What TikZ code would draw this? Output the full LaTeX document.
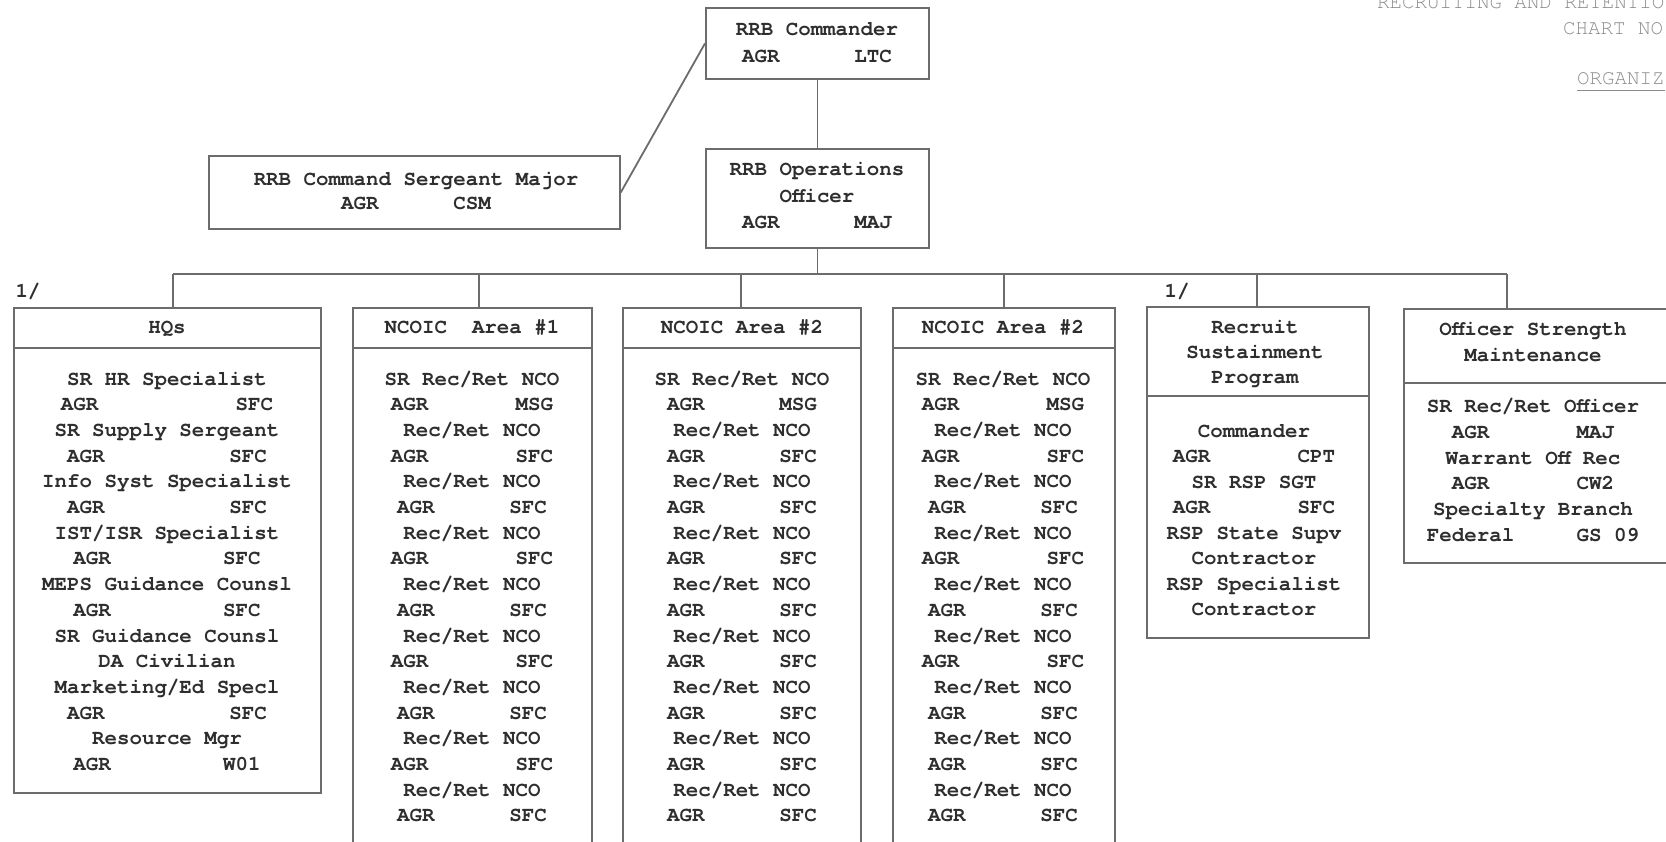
\documentclass[tikz,border=0pt]{standalone}
\usepackage{fontspec}
\setmainfont{texgyrecursor}[Extension=.otf, UprightFont=*-regular, BoldFont=*-bold]
\newcommand\gp[1]{\hspace*{\dimexpr 0.6em*#1\relax}}
\definecolor{ln}{HTML}{6C6C6C}
\definecolor{tx}{HTML}{2E2E2E}
\definecolor{ttl}{HTML}{8C8C8C}
\newcommand\rows[5]{%
  \foreach \rowtext [count=\i] in {#5}{%
    \node[txt] (#1-\i) at (#2, #3+\i*#4-#4) {\rowtext};}}
\newcommand\divider[2]{%
  \path (0,#2) coordinate (#1-dv);
  \draw[lnst] (#1.west |- #1-dv) -- (#1.east |- #1-dv);}
\begin{document}
\begin{tikzpicture}[x=1pt,y=-1pt,
  lnst/.style={draw=ln, line width=1.8pt},
  box/.style={lnst, anchor=north west, inner sep=0pt},
  txt/.style={inner sep=0pt, text height=12pt, text depth=0pt, anchor=center,
    font=\fontsize{20.8}{25}\selectfont\bfseries, text=tx},
  ttltxt/.style={inner sep=0pt, text height=12pt, text depth=0pt, anchor=west,
    font=\fontsize{20.8}{25}\selectfont, text=ttl}]
\useasboundingbox (0,0) rectangle (1666,842);
\clip (0,0) rectangle (1666,842);
\fill[white] (0,0) rectangle (1666,842);

% boxes
\node[box, minimum width=223pt, minimum height=71pt] (cmd) at (705,7) {};
\node[box, minimum width=223pt, minimum height=99pt] (ops) at (705,148) {};
\node[box, minimum width=411pt, minimum height=73pt] (csm) at (208,155) {};
\node[box, minimum width=307pt, minimum height=485pt] (hq) at (13,307) {};
\node[box, minimum width=239pt, minimum height=580pt] (nca) at (352,307) {};
\node[box, minimum width=238pt, minimum height=580pt] (ncb) at (622,307) {};
\node[box, minimum width=222pt, minimum height=580pt] (ncc) at (892,307) {};
\node[box, minimum width=222pt, minimum height=331pt] (rsp) at (1146,306) {};
\node[box, minimum width=290pt, minimum height=254pt] (osm) at (1403,308) {};

% header dividers
\divider{hq}{348}
\divider{nca}{348}
\divider{ncb}{348}
\divider{ncc}{348}
\divider{rsp}{396}
\divider{osm}{383}

% connectors
\draw[lnst] (cmd.south) -- (ops.north);
\draw[lnst] (csm.east) -- (cmd.west);
\coordinate (bus) at (0,274);
\coordinate (j1) at (173,274);
\coordinate (j2) at (479,274);
\coordinate (j3) at (741,274);
\coordinate (j4) at (1004,274);
\coordinate (j5) at (1257,274);
\coordinate (j6) at (1507,274);
\draw[lnst] (ops.south) -- (ops.south |- bus);
\draw[lnst] (j1) -- (j6);
\draw[lnst] (j1) -- (j1 |- hq.north);
\draw[lnst] (j2) -- (j2 |- nca.north);
\draw[lnst] (j3) -- (j3 |- ncb.north);
\draw[lnst] (j4) -- (j4 |- ncc.north);
\draw[lnst] (j5) -- (j5 |- rsp.north);
\draw[lnst] (j6) -- (j6 |- osm.north);

% top texts
\rows{cmdt}{817}{30}{27}{RRB Commander,AGR\gp{6}LTC}
\rows{opst}{817}{170}{26.5}{RRB Operations,Officer,AGR\gp{6}MAJ}
\rows{csmt}{416}{180}{24}{RRB Command Sergeant Major,AGR\gp{6}CSM}

% notes
\node[txt] (n1) at (28,292) {1/};
\node[txt] (n2) at (1177,292) {1/};

% headers
\node[txt] (hqh) at (167,328) {HQs};
\node[txt] (ncah) at (472,328) {NCOIC\gp{2}Area \#1};
\node[txt] (ncbh) at (742,328) {NCOIC Area \#2};
\node[txt] (ncch) at (1003,328) {NCOIC Area \#2};
\rows{rsph}{1255}{328}{25}{Recruit,Sustainment,Program}
\rows{osmh}{1533}{330}{25.5}{Officer Strength,Maintenance}

% bodies
\rows{hqb}{167}{379}{25.7}{SR HR Specialist,AGR\gp{11}SFC,SR Supply Sergeant,AGR\gp{10}SFC,Info Syst Specialist,AGR\gp{10}SFC,IST/ISR Specialist,AGR\gp{9}SFC,MEPS Guidance Counsl,AGR\gp{9}SFC,SR Guidance Counsl,DA Civilian,Marketing/Ed Specl,AGR\gp{10}SFC,Resource Mgr,AGR\gp{9}W01}
\rows{ncab}{472}{379}{25.7}{SR Rec/Ret NCO,AGR\gp{7}MSG,Rec/Ret NCO,AGR\gp{7}SFC,Rec/Ret NCO,AGR\gp{6}SFC,Rec/Ret NCO,AGR\gp{7}SFC,Rec/Ret NCO,AGR\gp{6}SFC,Rec/Ret NCO,AGR\gp{7}SFC,Rec/Ret NCO,AGR\gp{6}SFC,Rec/Ret NCO,AGR\gp{7}SFC,Rec/Ret NCO,AGR\gp{6}SFC}
\rows{ncbb}{742}{379}{25.7}{SR Rec/Ret NCO,AGR\gp{6}MSG,Rec/Ret NCO,AGR\gp{6}SFC,Rec/Ret NCO,AGR\gp{6}SFC,Rec/Ret NCO,AGR\gp{6}SFC,Rec/Ret NCO,AGR\gp{6}SFC,Rec/Ret NCO,AGR\gp{6}SFC,Rec/Ret NCO,AGR\gp{6}SFC,Rec/Ret NCO,AGR\gp{6}SFC,Rec/Ret NCO,AGR\gp{6}SFC}
\rows{nccb}{1003}{379}{25.7}{SR Rec/Ret NCO,AGR\gp{7}MSG,Rec/Ret NCO,AGR\gp{7}SFC,Rec/Ret NCO,AGR\gp{6}SFC,Rec/Ret NCO,AGR\gp{7}SFC,Rec/Ret NCO,AGR\gp{6}SFC,Rec/Ret NCO,AGR\gp{7}SFC,Rec/Ret NCO,AGR\gp{6}SFC,Rec/Ret NCO,AGR\gp{6}SFC,Rec/Ret NCO,AGR\gp{6}SFC}
\rows{rspb}{1254}{431}{25.5}{Commander,AGR\gp{7}CPT,SR RSP SGT,AGR\gp{7}SFC,RSP State Supv,Contractor,RSP Specialist,Contractor}
\rows{osmb}{1533}{407}{25.6}{SR Rec/Ret Officer,AGR\gp{7}MAJ,Warrant Off Rec,AGR\gp{7}CW2,Specialty Branch,Federal\gp{5}GS 09}

% title block (cut by the page edge, as in the reference)
\node[ttltxt] (t1) at (1377,3) {RECRUITING AND RETENTIO};
\node[ttltxt] (t2) at (1563,29) {CHART NO};
\node[ttltxt] (t3) at (1577,79) {ORGANIZ};
\draw[draw=ttl, line width=1pt] ([yshift=-5pt]t3.south west) -- ([yshift=-5pt]t3.south east);
\end{tikzpicture}
\end{document}
